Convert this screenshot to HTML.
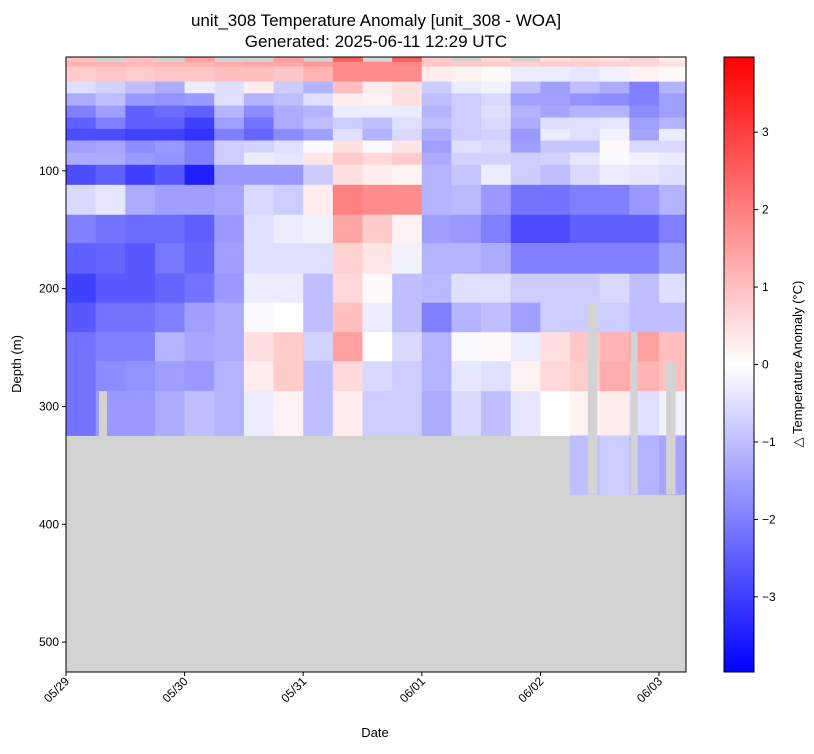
<!DOCTYPE html>
<html><head><meta charset="utf-8"><style>
body{margin:0;background:#fff;font-family:"Liberation Sans",sans-serif}
svg text{font-family:"Liberation Sans",sans-serif;fill:#000}
</style></head><body>
<svg id="chart" width="814" height="749" viewBox="0 0 814 749" xmlns="http://www.w3.org/2000/svg">
<rect width="814" height="749" fill="#fff"/>
<text x="376" y="26" text-anchor="middle" font-size="17">unit_308 Temperature Anomaly [unit_308 - WOA]</text>
<text x="376" y="47" text-anchor="middle" font-size="17">Generated: 2025-06-11 12:29 UTC</text>
<g id="plot"></g>
<g id="axes"></g>
<text transform="translate(21,364) rotate(-90)" text-anchor="middle" font-size="13">Depth (m)</text>
<text x="375" y="737" text-anchor="middle" font-size="13">Date</text>
<defs><linearGradient id="bwr" x1="0" y1="1" x2="0" y2="0">
<stop offset="0" stop-color="#0000ff"/><stop offset="0.5" stop-color="#ffffff"/><stop offset="1" stop-color="#ff0000"/></linearGradient></defs>
<rect x="724" y="57" width="30" height="615" fill="url(#bwr)" stroke="#000" stroke-width="1"/>
<g id="cbar"></g>
<text transform="translate(802,364) rotate(-90)" text-anchor="middle" font-size="13">△ Temperature Anomaly (°C)</text>
</svg>
<script>
const N = NaN;
const depthEdges = [3.4,7.4,11.6,24.3,34.2,44.7,54.8,64.4,74.3,84.5,94.9,111.9,137.3,161.3,187.3,211.9,237,261.6,287,324.6,374.6];
const timeStep = 0.25;
const row00=[1,N,1,N,1.5,N,N,1.5,N,2.5,N,2.5,0.8,N,0.6,N,0.5,0.6,0.5,0.7,0.3];
const row01=[1.2,1.2,1.1,1.2,1.2,1.3,1.4,1.4,1.6,1.8,1.8,1.9,0.9,0.8,0.8,0.7,0.8,0.8,0.7,0.6,0.5];
const row02=[0.8,0.9,0.8,0.9,0.9,1.0,1.0,0.9,1.2,1.8,1.8,1.8,0.3,0.2,0.1,-0.3,-0.3,-0.4,-0.2,0.2,0.1];
const row03=[-0.5,-0.7,-1,-1.3,-0.3,-0.5,0.3,-0.8,-1.2,1.0,0.3,0.5,-0.8,-0.3,-0.2,-1,-1.5,-1,-1.3,-2,-1.2];
const row04=[-1.3,-1,-1.6,-1.7,-1.6,-0.5,-1.2,-1,-0.5,0.3,0.2,0.5,-1,-0.8,-0.6,-1.5,-1.5,-1.7,-1.8,-2,-1.5];
const row05=[-2,-1.5,-2.5,-2.3,-2.5,-1.2,-1.8,-1.3,-1.2,-0.3,-0.3,-0.3,-1.2,-0.8,-0.5,-1.2,-1.4,-1.2,-1.2,-1.8,-1.5];
const row06=[-2.5,-2,-2.5,-2.5,-3,-1.5,-2.2,-1.3,-1,-0.8,-1,-0.5,-1,-0.8,-0.6,-1.3,-0.5,-0.5,-0.4,-1.5,-1.2];
const row07=[-2.8,-2.8,-3,-3,-3.2,-2,-2.4,-1.8,-1.5,-0.5,-1.2,-0.6,-1.3,-0.8,-0.7,-1.6,-0.3,-0.5,-0.2,-1.4,-0.3];
const row08=[-1.5,-1.4,-1.8,-1.6,-2,-0.8,-0.7,-0.5,-0.1,0.5,-0.1,0.4,-1.5,-0.5,-0.6,-1.5,-0.9,-0.9,0.1,-0.6,-0.6];
const row09=[-1.3,-1.3,-1.6,-1.7,-2,-0.8,-0.3,-0.4,0.4,0.8,0.6,0.8,-1.3,-0.7,-0.7,-0.8,-0.7,-0.4,-0.1,-0.2,-0.3];
const row10=[-2.8,-2.5,-3,-2.6,-3.5,-1.6,-1.6,-1.6,-0.8,0.5,0.3,0.2,-1.2,-0.9,-0.3,-0.8,-1,-0.6,-0.3,-0.4,-0.5];
const row11=[-0.6,-0.4,-1.3,-1.5,-1.5,-1.4,-0.6,-0.8,0.3,2,1.8,1.8,-1.2,-1.1,-1.6,-2.2,-2.2,-2,-2,-1.6,-1.2];
const row12=[-2,-2.2,-2.3,-2.3,-2.5,-1.6,-0.5,-0.3,-0.2,1.4,0.8,0.2,-1.5,-1.6,-2,-2.8,-2.8,-2.5,-2.5,-2.5,-2];
const row13=[-2.5,-2.4,-2.6,-2.1,-2.4,-1.5,-0.5,-0.5,-0.5,0.7,0.4,-0.2,-1.2,-1.2,-1.3,-2,-2,-2,-2,-2,-1.5];
const row14=[-3,-2.6,-2.6,-2.4,-2.2,-1.6,-0.3,-0.3,-1,0.6,0.1,-1,-1.1,-0.5,-0.5,-0.8,-0.8,-0.8,-0.6,-1,-0.5];
const row15=[-2.6,-2.2,-2.2,-2,-1.5,-1.3,-0.1,0,-1,1,-0.3,-1,-2,-1.2,-1,-1.5,-0.8,-0.8,-0.8,-1,-1];
const row16=[-2.2,-2,-2,-1.2,-1.4,-1.3,0.5,0.8,-0.7,1.5,0,-0.6,-1.2,-0.1,0.1,-0.3,0.5,0.9,1.2,1.5,1];
const row17=[-2.2,-1.8,-1.7,-1.5,-1.6,-1.2,0.3,0.8,-1,0.6,-0.6,-0.8,-1.2,-0.4,-0.5,0.2,0.6,0.8,1.3,1.2,1];
const row18=[-2.2,-1.6,-1.6,-1.3,-1,-1.2,-0.3,0.2,-1,0.3,-0.8,-0.8,-1.3,-0.6,-1,-0.4,0,0.2,0.3,-0.5,-0.2];
const row19=[N,N,N,N,N,N,N,N,N,N,N,N,N,N,N,N,N,-1,-0.8,-1.2,-1.4];
const values=[row00,row01,row02,row03,row04,row05,row06,row07,row08,row09,row10,row11,row12,row13,row14,row15,row16,row17,row18,row19];
const gapStart=[0.278,4.40,4.76,5.06];
const gapEnd=[0.346,4.48,4.82,5.14];
const gapDepth=[287,211.9,237,261.6];
const xTickLabels=["05/29","05/30","05/31","06/01","06/02","06/03"];
const yTicks=[100,200,300,400,500];
const cbarTicks=[3,2,1,0,-1,-2,-3];

const X0=66,X1=686,Y0=57,Y1=672;
const dMin=3.4,dMax=525.4,tMax=(X1-X0)/118.6;
const xs=t=>X0+t*118.6;
const ys=d=>Y0+(d-dMin)*(Y1-Y0)/(dMax-dMin);
function color(v){
  v=Math.max(-4,Math.min(4,v));
  if(v<0){const c=Math.round(255*(v+4)/4);return `rgb(${c},${c},255)`;}
  const c=Math.round(255*(1-v/4));return `rgb(255,${c},${c})`;
}
const NS="http://www.w3.org/2000/svg";
function mk(tag,attrs,parent){const e=document.createElementNS(NS,tag);for(const k in attrs)e.setAttribute(k,attrs[k]);parent.appendChild(e);return e;}
const plot=document.getElementById('plot');
const bg=mk('rect',{x:X0,y:Y0,width:X1-X0,height:Y1-Y0,fill:'#d3d3d3'},plot);


values.forEach((row,ri)=>{
  row.forEach((v,ci)=>{
    if(isNaN(v))return;
    const x0=xs(ci*timeStep),x1=Math.min(X1,xs((ci+1)*timeStep));
    const r=mk('rect',{x:x0,y:ys(depthEdges[ri]),width:x1-x0+0.5,height:ys(depthEdges[ri+1])-ys(depthEdges[ri])+0.5,fill:color(v)},plot);
    
    
  });
});
gapStart.forEach((g,i)=>{
  const r=mk('rect',{x:xs(g),y:ys(gapDepth[i]),width:xs(gapEnd[i])-xs(g),height:ys(374.6)-ys(gapDepth[i]),fill:'#d3d3d3'},plot);
  
  
});
const axes=document.getElementById('axes');
const fr=mk('rect',{x:X0,y:Y0,width:X1-X0,height:Y1-Y0,fill:'none',stroke:'#000','stroke-width':1},axes);


xTickLabels.forEach((l,i)=>{
  const x=xs(i);
  const t=mk('line',{x1:x,y1:Y1,x2:x,y2:Y1+4,stroke:'#000'},axes);
  
  
  const tx=mk('text',{transform:`translate(${x+4},${Y1+10}) rotate(-45)`,'text-anchor':'end','font-size':12},axes);
  tx.textContent=l;
  
  
});
yTicks.forEach(d=>{
  const y=ys(d);
  const t=mk('line',{x1:X0-4,y1:y,x2:X0,y2:y,stroke:'#000'},axes);
  
  
  const tx=mk('text',{x:X0-7,y:y+4,'text-anchor':'end','font-size':12},axes);
  tx.textContent=d;
  
  
});
const cb=document.getElementById('cbar');
cbarTicks.forEach(v=>{
  const y=364.5-v*(615/7.94);
  const t=mk('line',{x1:754,y1:y,x2:758,y2:y,stroke:'#000'},cb);
  
  
  const tx=mk('text',{x:762,y:y+4,'font-size':12},cb);
  tx.textContent=v<0?'−'+(-v):String(v);
  
  
});
</script>
</body></html>
